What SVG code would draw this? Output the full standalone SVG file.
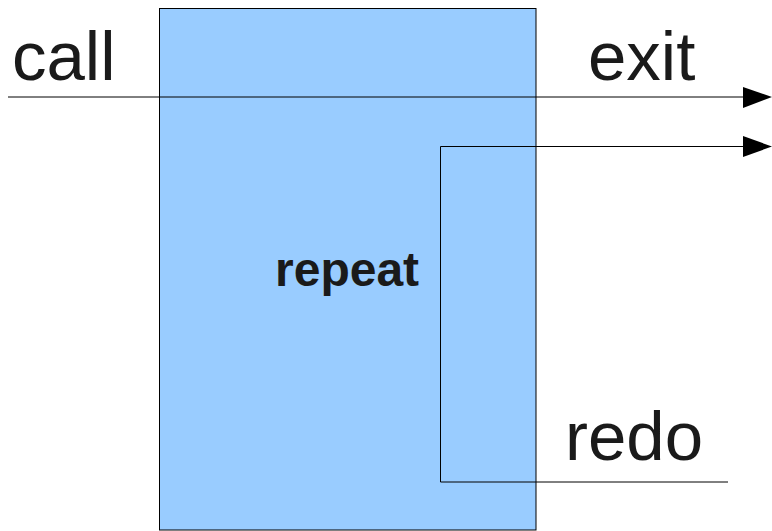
<svg xmlns="http://www.w3.org/2000/svg" width="772" height="531" viewBox="0 0 772 531">
<style>
.lbl{font-family:"Liberation Sans",Arial,sans-serif;font-size:69px;fill:#1a1a1a}
.b{font-weight:bold;font-size:48px}
.ln{fill:none;stroke:#000;stroke-width:1}
.ah{fill:#000}
</style>
<rect width="772" height="531" fill="#fff"/>
<g id="repeat">
<rect x="159.5" y="8.5" width="376.5" height="521.5" fill="#99ccff" stroke="#000" stroke-width="1"/>
<text class="lbl b" x="275" y="286">repeat</text>
</g>
<g id="labels">
<text class="lbl" x="12" y="80">call</text>
<text class="lbl" x="588" y="80">exit</text>
<text class="lbl" x="565" y="460">redo</text>
</g>
<g id="connectors">
<path class="ln" d="M8 97H744"/>
<polygon class="ah" points="743,87 772,97 743,108"/>
<path class="ln" d="M440.5 482V146.5H744"/>
<polygon class="ah" points="743,136 772,146.5 743,157"/>
<path class="ln" d="M440.5 482H728"/>
</g>
</svg>
